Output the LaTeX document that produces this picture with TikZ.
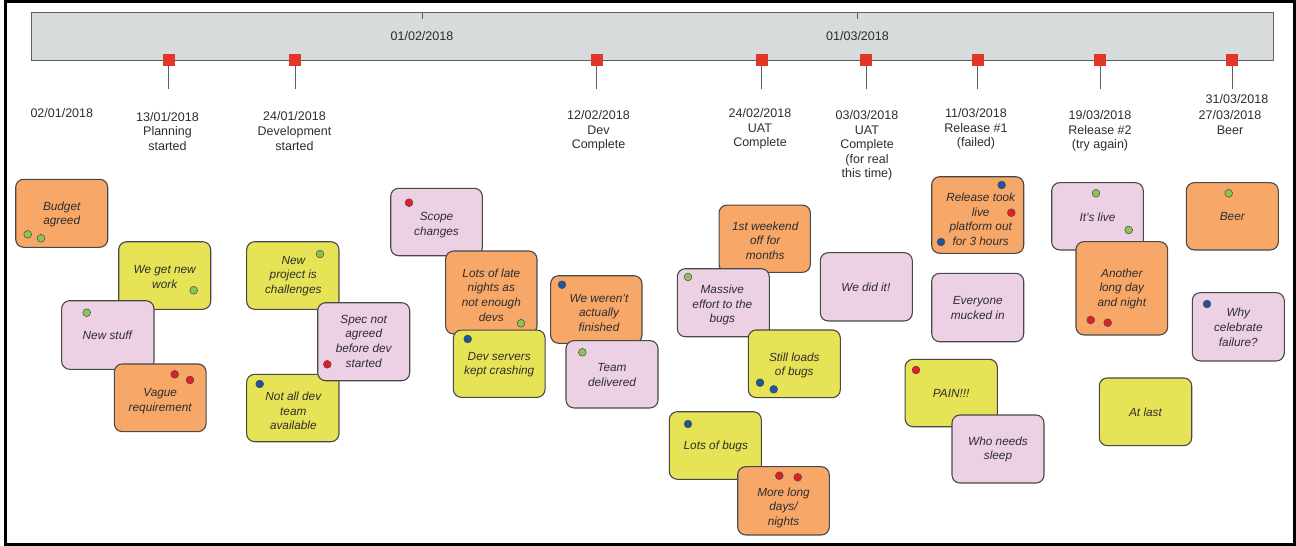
\documentclass[tikz,border=0pt]{standalone}
\usepackage{fontspec}
\setmainfont{Liberation Sans}

\definecolor{noteorange}{RGB}{247,167,104}
\definecolor{noteyellow}{RGB}{230,228,86}
\definecolor{notepink}{RGB}{236,208,228}
\definecolor{edgegrey}{RGB}{72,72,72}
\definecolor{textgrey}{RGB}{45,45,45}
\definecolor{barfill}{RGB}{216,219,219}
\definecolor{barline}{RGB}{95,95,95}
\definecolor{markred}{RGB}{226,54,40}
\definecolor{dotgreen}{RGB}{140,196,80}
\definecolor{dotred}{RGB}{228,30,40}
\definecolor{dotblue}{RGB}{30,85,160}

\tikzset{
  note/.style={draw=edgegrey, line width=1.1pt, rounded corners=8pt, inner sep=0pt},
  notetext/.style={font=\fontsize{11.8}{14.7}\selectfont\itshape, align=center,
                   text=textgrey, inner sep=0pt},
  datetext/.style={font=\fontsize{12.5}{14.6}\selectfont, align=center,
                   text=textgrey, inner sep=0pt},
  marker/.style={fill=markred, minimum size=12pt, inner sep=0pt},
  stem/.style={draw=barline, line width=0.9pt},
  pin/.style={draw=edgegrey, line width=0.5pt},
}

% \sticky{name}{fill}{centre x}{centre y}{width}{height}{text shift}{text}
\newcommand\sticky[8]{%
  \node[note, fill=#2, minimum width=#5pt, minimum height=#6pt] (#1) at (#3,#4) {};
  \node[notetext] (#1-text) at ([shift={(#7)}]#1.center) {#8};}
% \pinat{colour}{x}{y}
\newcommand\pinat[3]{\filldraw[pin, fill=#1] (#2,#3) circle (3.9pt);}

\begin{document}
\begin{tikzpicture}[x=1pt, y=-1pt]
\useasboundingbox (0,0) rectangle (1296,546);

% outer frame
\draw[line width=3pt] (5.3,1.3) rectangle (1294.6,544.2);

% timeline bar with month ticks
\node[draw=barline, line width=0.9pt, fill=barfill, minimum width=1241.5pt,
      minimum height=48.5pt, inner sep=0pt] (bar) at (652.25,36.25) {};
\draw[stem] (422,12) -- (422,18.5);
\draw[stem] (857.5,12) -- (857.5,18.5);
\node[datetext] (feb) at (422,36) {01/02/2018};
\node[datetext] (mar) at (857.5,36) {01/03/2018};

% milestones: stem, marker and caption
\foreach \n/\x in {1/168.5, 2/295, 3/596.7, 4/761.5, 5/866.3, 6/977.5, 7/1100, 8/1232}{
  \coordinate (s\n) at (\x,89);
  \node[marker] (m\n) at (\x,60) {};
  \draw[stem] (m\n.south) -- (s\n);
}
\node[datetext] (d0) at (61.8,113) {02/01/2018};
\node[datetext] (d1) at (167.5,131.5) {13/01/2018\\Planning\\started};
\node[datetext] (d2) at (294.5,131) {24/01/2018\\Development\\started};
\node[datetext] (d3) at (598.5,131) {12/02/2018\\Dev\\Complete};
\node[datetext] (d4) at (760,129) {24/02/2018\\UAT\\Complete};
\node[datetext] (d5) at (867,145.5) {03/03/2018\\UAT\\Complete\\(for real\\this time)};
\node[datetext] (d6) at (976,129) {11/03/2018\\Release \#1\\(failed)};
\node[datetext] (d7) at (1100,131) {19/03/2018\\Release \#2\\(try again)};
\node[datetext] (d8a) at (1237,99.5) {31/03/2018};
\node[datetext] (d8b) at (1230,122.5) {27/03/2018\\Beer};

% sticky notes, in stacking order
\sticky{budget}{noteorange}{61.7}{213.3}{92}{68}{0,1}{Budget\\agreed}
\pinat{dotgreen}{27.7}{234.3}\pinat{dotgreen}{41}{238.3}

\sticky{getnew}{noteyellow}{164.7}{275.5}{92}{67.6}{0,1.8}{We get new\\work}
\pinat{dotgreen}{193.7}{290.3}

\sticky{newstuff}{notepink}{107.8}{335}{92.3}{68.6}{-0.5,0}{New stuff}
\pinat{dotgreen}{86.7}{312.7}

\sticky{vague}{noteorange}{160.2}{397.8}{91.7}{67.7}{0,3.5}{Vague\\requirement}
\pinat{dotred}{174.7}{374.3}\pinat{dotred}{190}{380}

\sticky{newproject}{noteyellow}{292.8}{275.5}{92.3}{67.6}{0.5,0.5}{New\\project is\\challenges}
\pinat{dotgreen}{320}{254}

\sticky{notall}{noteyellow}{292.8}{408}{92.3}{67.4}{0.5,3}{Not all dev\\team\\available}
\pinat{dotblue}{259.7}{384}

\sticky{spec}{notepink}{363.7}{341.7}{92}{78}{0,-0.5}{Spec not\\agreed\\before dev\\started}
\pinat{dotred}{327.3}{364.3}

\sticky{scope}{notepink}{436.5}{222}{91.6}{67.4}{0,3}{Scope\\changes}
\pinat{dotred}{409}{202.7}

\sticky{latenights}{noteorange}{491.3}{292.5}{91.3}{83}{0,2.5}{Lots of late\\nights as\\not enough\\devs}
\pinat{dotgreen}{521}{323.3}

\sticky{devservers}{noteyellow}{499.2}{363.7}{91.7}{67.3}{0,1}{Dev servers\\kept crashing}
\pinat{dotblue}{467.7}{339}

\sticky{werent}{noteorange}{596.3}{309.5}{91.3}{67.6}{2.7,3.2}{We weren't\\actually\\finished}
\pinat{dotblue}{562}{284.7}

\sticky{team}{notepink}{612}{374.3}{92}{67.3}{0,0.7}{Team\\delivered}
\pinat{dotgreen}{582.3}{352.3}

\sticky{weekend}{noteorange}{764.7}{238.7}{91.3}{67.3}{0.5,1.8}{1st weekend\\off for\\months}

\sticky{massive}{notepink}{723.3}{302.7}{92}{68}{-1,2.5}{Massive\\effort to the\\bugs}
\pinat{dotgreen}{688}{277}

\sticky{stillloads}{noteyellow}{794.3}{363.8}{92}{67.7}{0,1.5}{Still loads\\of bugs}
\pinat{dotblue}{760}{382.7}\pinat{dotblue}{773.7}{389.3}

\sticky{diddit}{notepink}{866.3}{286.8}{92}{68.3}{-0.5,0.5}{We did it!}

\sticky{lotsbugs}{noteyellow}{715.3}{445.5}{92}{67.6}{0.5,0.5}{Lots of bugs}
\pinat{dotblue}{688}{424}

\sticky{morelong}{noteorange}{783.5}{500.8}{91.6}{68.3}{0,7}{More long\\days/\\nights}
\pinat{dotred}{779.3}{475.7}\pinat{dotred}{797.7}{477.3}

\sticky{release}{noteorange}{977.7}{215}{92}{76.6}{3,4.2}{Release took\\live\\platform out\\for 3 hours}
\pinat{dotblue}{1001.7}{185}\pinat{dotred}{1011.3}{212.7}\pinat{dotblue}{941}{242}

\sticky{everyone}{notepink}{977.7}{307.5}{92}{68.4}{0,0.5}{Everyone\\mucked in}

\sticky{pain}{noteyellow}{951.2}{393}{92.3}{67.4}{0,0.5}{PAIN!!!}
\pinat{dotred}{916}{370}

\sticky{sleep}{notepink}{998}{449}{92}{68}{0,0.5}{Who needs\\sleep}

\sticky{itslive}{notepink}{1097.5}{216.3}{91.6}{67.3}{0,0.5}{It's live}
\pinat{dotgreen}{1096}{193.3}\pinat{dotgreen}{1128.7}{230}

\sticky{another}{noteorange}{1121.8}{288.3}{91.7}{93.3}{0,0.5}{Another\\long day\\and night}
\pinat{dotred}{1090.7}{320}\pinat{dotred}{1107.7}{322.7}

\sticky{atlast}{noteyellow}{1145.5}{411.8}{92.4}{67.7}{0,0.5}{At last}

\sticky{beer}{noteorange}{1232.3}{216.3}{92}{67.3}{0,0.5}{Beer}
\pinat{dotgreen}{1228.7}{193.3}

\sticky{why}{notepink}{1238.3}{326.8}{92}{68.3}{0,0.5}{Why\\celebrate\\failure?}
\pinat{dotblue}{1207}{304}

\end{tikzpicture}
\end{document}
